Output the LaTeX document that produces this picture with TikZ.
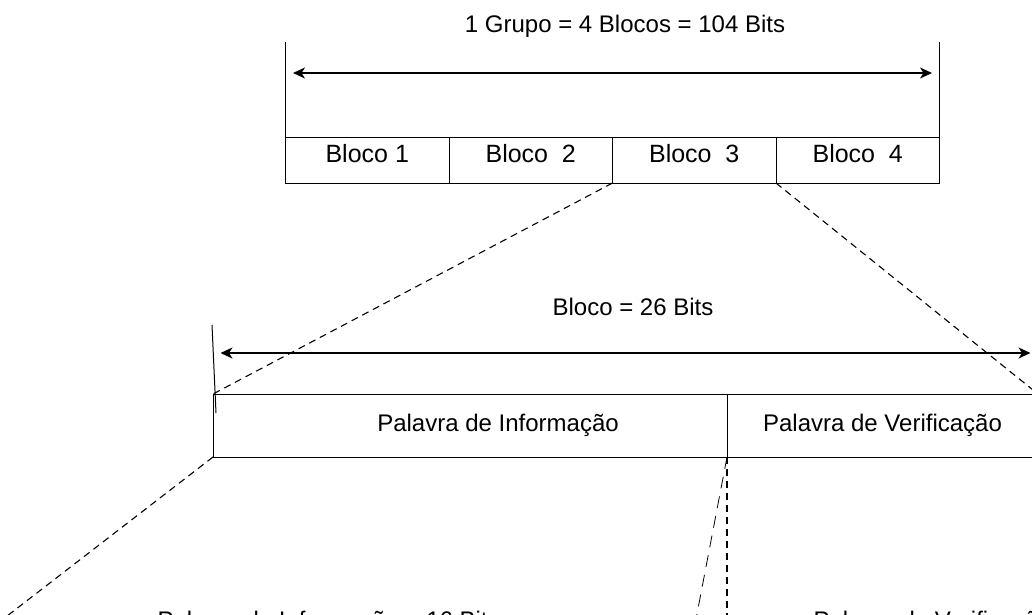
\documentclass[tikz,border=0pt]{standalone}
\usepackage{fontspec}
\setmainfont{Liberation Sans}
\usetikzlibrary{arrows.meta}

\tikzstyle{every picture}+=[line width=1pt]
\tikzstyle{txt}=[anchor=base, inner sep=0pt, font=\fontsize{24}{28}\selectfont]
\tikzstyle{block}=[draw, inner sep=0pt, outer sep=0pt, minimum width=163.5pt, minimum height=46pt, text height=17pt, text depth=13pt, font=\fontsize{25}{30}\selectfont]
\tikzstyle{cell}=[draw, inner sep=0pt, outer sep=0pt, minimum height=63pt, text height=17pt, text depth=6pt, font=\fontsize{24}{28}\selectfont]
\tikzstyle{dim}=[{Stealth[length=12pt,width=11pt,inset=3.5pt]}-{Stealth[length=12pt,width=11pt,inset=3.5pt]}, line width=1.4pt, shorten <=7.5pt, shorten >=7.5pt]
\tikzstyle{dashline}=[dash pattern=on 7pt off 5pt, line width=1.1pt]
\tikzstyle{longdash}=[dash pattern=on 12pt off 8pt, line width=0.8pt]

\begin{document}
\begin{tikzpicture}[x=1pt,y=-1pt]
\useasboundingbox (0,0) rectangle (1032,614);
\clip (0,0) rectangle (1032,614);

\node[txt] (grupo) at (625,32) {1 Grupo = 4 Blocos = 104 Bits};
\node[block] (b1) at (367.25,160) {Bloco 1};
\node[block] (b2) at (530.75,160) {Bloco\ \ 2};
\node[block] (b3) at (694.25,160) {Bloco\ \ 3};
\node[block] (b4) at (857.75,160) {Bloco\ \ 4};
\coordinate (t0) at (285.5,42);
\coordinate (t1) at (939.5,42);
\draw (b1.south west) -- (t0);
\draw (b4.south east) -- (t1);
\coordinate (a0) at (285.5,73);
\coordinate (a1) at (939.5,73);
\draw[dim] (a0) -- (a1);

\node[txt] (bloco) at (633,315) {Bloco = 26 Bits};
\node[cell, minimum width=514pt] (p0) at (470,425.5) {};
\node[txt] (info) at (498,431) {Palavra de Informação};
\node[cell, minimum width=311pt] (p1) at (882.5,425.5) {Palavra de Verificação};
\coordinate (s0) at (212,325);
\coordinate (s1) at (216,413);
\draw (s0) -- (s1);
\coordinate (a2) at (213,353);
\coordinate (a3) at (1038,353);
\draw[dim] (a2) -- (a3);

\draw[dashline] (b3.south west) -- (p0.north west);
\draw[dashline] (b4.south west) -- (p1.north east);
\coordinate (d0) at (-24,640);
\coordinate (d1) at (727,640);
\coordinate (d2) at (692,640);
\draw[dashline] (p0.south west) -- (d0);
\draw[dashline] (p0.south east) -- (d1);
\draw[longdash] (p0.south east) -- (d2);

\node[txt, anchor=base west] (w0) at (157,628) {Palavra de Informação = 16 Bits};
\node[txt, anchor=base west] (w1) at (813,628) {Palavra de Verificação = 10 Bits};
\end{tikzpicture}
\end{document}
